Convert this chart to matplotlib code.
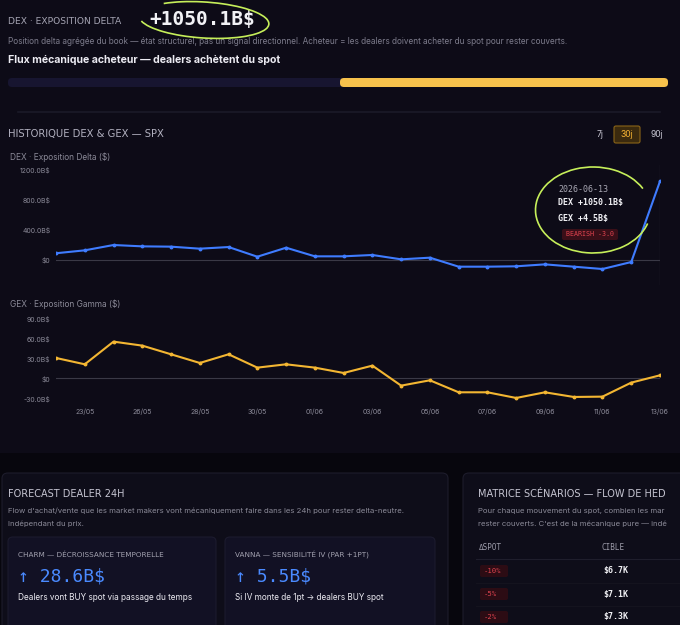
import matplotlib
matplotlib.use("Agg")
import matplotlib.pyplot as plt
from matplotlib.patches import FancyBboxPatch, Rectangle, Arc

# --- data ---
dates = ["22/05", "23/05", "25/05", "26/05", "27/05", "28/05", "29/05", "30/05",
         "31/05", "01/06", "02/06", "03/06", "04/06", "05/06", "06/06", "07/06",
         "08/06", "09/06", "10/06", "11/06", "12/06", "13/06"]
dex = [90, 129, 200, 182, 178, 151, 173, 44, 164, 49, 49, 67,
       9, 31, -89, -89, -84, -58, -89, -120, -27, 1050.1]
gex = [30.5, 21, 55, 49, 36, 23, 36, 16, 21, 16, 8, 19,
       -11, -3, -21, -21, -29.5, -21, -28, -27.5, -6.5, 4.5]
dex_ticks = [0, 400, 800, 1200]
dex_tick_labels = ["$0", "400.0B$", "800.0B$", "1200.0B$"]
gex_ticks = [-30, 0, 30, 60, 90]
gex_tick_labels = ["-30.0B$", "$0", "30.0B$", "60.0B$", "90.0B$"]
periods = ["7j", "30j", "90j"]
scen_moves = ["-10%", "-5%", "-2%"]
scen_targets = ["$6.7K", "$7.1K", "$7.3K"]

W, H = 680, 625
BG_TOP = "#0d0b17"
BG_BOT = "#07060d"
BLUE = "#3f7cff"
AMBER = "#f3b632"
GREY = "#8b8a98"
SANS = ["Inter", "DejaVu Sans"]
WIDE = ["DejaVu Sans"]
MONO = ["DejaVu Sans Mono"]

fig = plt.figure(figsize=(W / 100, H / 100), dpi=100)
fig.patch.set_facecolor(BG_BOT)


def fx(x):
    return x / W


def fy(y):
    return 1 - y / H


def txt(x, y, s, size, color, family=SANS, weight="normal", ha="left", **kw):
    fig.text(fx(x), fy(y), s, fontsize=size, color=color, family=family,
             weight=weight, ha=ha, va="center", **kw)


def box(x0, y0, x1, y1, fc, ec="none", r=4, lw=0.8, z=0):
    p = FancyBboxPatch((fx(x0), fy(y1)), fx(x1 - x0), (y1 - y0) / H,
                       boxstyle="round,pad=0,rounding_size=%f" % (r / W),
                       transform=fig.transFigure, fc=fc, ec=ec, lw=lw, zorder=z)
    fig.patches.append(p)


# backgrounds
fig.patches.append(Rectangle((0, fy(453)), 1, 453 / H, transform=fig.transFigure,
                             fc=BG_TOP, ec="none", zorder=-2))

# header
txt(8, 21, "DEX · EXPOSITION DELTA", 6.6, "#a4a3b2", family=WIDE)
txt(149, 19, "+1050.1B$", 14, "#f2f2f6", family=MONO, weight="bold")
txt(8, 42, "Position delta agrégée du book — état structurel, pas un signal directionnel. "
    "Acheteur = les dealers doivent acheter du spot pour rester couverts.", 5.9, "#7d7c8c")
txt(8, 60, "Flux mécanique acheteur — dealers achètent du spot", 7.6, "#ecebf2", weight="bold")

# flow bar
box(8, 78, 668, 87, "#171530", r=4)
box(340, 78, 668, 87, "#f7c24c", r=4, z=1)
fig.lines.append(plt.Line2D([fx(18), fx(660)], [fy(112), fy(112)], color="#1b1a28",
                            lw=1.2, transform=fig.transFigure))

txt(8, 134, "HISTORIQUE DEX & GEX — SPX", 7.2, "#b2b1c0", family=WIDE)
px_period = [600, 627, 657]
for p, xp in zip(periods, px_period):
    if p == "30j":
        box(614, 126, 640, 143, "#3b2a0e", ec="#8a6418", r=2, z=1)
        txt(xp, 134.5, p, 6.2, "#f5b233", ha="center")
    else:
        txt(xp, 134.5, p, 6.2, "#c9c8d4", ha="center")

# DEX chart
x = list(range(len(dates)))
ax1 = fig.add_axes([fx(56), fy(290), fx(660 - 56), (290 - 165) / H])
ax1.plot(x, dex, color=BLUE, lw=1.5, marker="o", ms=1.8, zorder=3)
ax1.set_ylim(-400, 1267)
ax1.set_yticks(dex_ticks, dex_tick_labels)
ax1.set_xticks([])
ax1.axhline(0, color="#3a3946", lw=0.8, zorder=1)
ax1.axvline(x[-1], ymin=0.05, color="#4a4956", lw=0.8, zorder=1)
txt(10, 157, "DEX · Exposition Delta ($)", 6, GREY)

# GEX chart
ax2 = fig.add_axes([fx(56), fy(400.3), fx(660 - 56), 88 / H])
ax2.plot(x, gex, color=AMBER, lw=1.5, marker="o", ms=1.8, zorder=3)
ax2.set_ylim(-33, 99)
ax2.set_yticks(gex_ticks, gex_tick_labels)
ax2.set_xticks(x[1::2], dates[1::2])
ax2.axhline(0, color="#3a3946", lw=0.8, zorder=1)
txt(10, 304, "GEX · Exposition Gamma ($)", 6, GREY)

for ax in (ax1, ax2):
    ax.set_facecolor("none")
    ax.set_xlim(0, len(dates) - 1)
    for s in ax.spines.values():
        s.set_visible(False)
    ax.tick_params(length=0, labelsize=5, colors=GREY, pad=4)
    for lab in ax.get_xticklabels() + ax.get_yticklabels():
        lab.set_family(SANS)
ax2.tick_params(axis="x", pad=6)

# tooltip
txt(558, 189, "2026-06-13", 6, "#a9a8b4", family=MONO)
txt(558, 203, "DEX +1050.1B$", 6, "#f0f0f4", family=MONO, weight="bold")
txt(558, 218, "GEX +4.5B$", 6, "#f0f0f4", family=MONO, weight="bold")
box(562, 229, 618, 240, "#3a0f18", r=2, z=1)
txt(590, 234.5, "BEARISH -3.0", 4.8, "#e0434f", family=MONO, ha="center")

# hand-drawn marks on the screenshot
green = "#c6ef5a"
fig.patches.append(Arc((fx(204), fy(20)), fx(130), 36 / H, angle=-4, theta1=-175, theta2=160,
                       transform=fig.transFigure, color=green, lw=1.2, zorder=5))
fig.patches.append(Arc((fx(593), fy(210)), fx(115), 86 / H, angle=0, theta1=25, theta2=345,
                       transform=fig.transFigure, color=green, lw=1.2, zorder=5))

# bottom left panel
box(2, 473, 448, 640, "#0e0d19", ec="#1d1c2b", r=6)
txt(8, 494, "FORECAST DEALER 24H", 7, "#c6c5d2", family=WIDE)
txt(8, 511, "Flow d'achat/vente que les market makers vont mécaniquement faire dans "
    "les 24h pour rester delta-neutre.", 5.6, "#8b8a98")
txt(8, 524, "Indépendant du prix.", 5.6, "#8b8a98")

cards = [
    (8, 216, "CHARM — DÉCROISSANCE TEMPORELLE", "↑ 28.6B$",
     "Dealers vont BUY spot via passage du temps"),
    (225, 435, "VANNA — SENSIBILITÉ IV (PAR +1PT)", "↑ 5.5B$",
     "Si IV monte de 1pt → dealers BUY spot"),
]
for x0, x1, head, val, sub in cards:
    box(x0, 537, x1, 640, "#121124", ec="#1c1b2e", r=5, z=1)
    txt(x0 + 10, 555, head, 5.2, "#a3a2b0", family=WIDE)
    txt(x0 + 10, 576, val, 13, "#4a8aff", family=MONO)
    txt(x0 + 10, 598, sub, 5.9, "#ecebf2")

# bottom right panel (cut by the screenshot edge)
box(463, 473, 700, 640, "#0e0d19", ec="#1d1c2b", r=6)
txt(478, 494, "MATRICE SCÉNARIOS — FLOW DE HED", 7, "#c6c5d2", family=WIDE)
txt(478, 511, "Pour chaque mouvement du spot, combien les mar", 5.6, "#8b8a98")
txt(478, 524, "rester couverts. C'est de la mécanique pure — indé", 5.6, "#8b8a98")
txt(479, 548, "ΔSPOT", 5.5, "#9d9caa", family=MONO)
txt(601, 548, "CIBLE", 5.5, "#9d9caa", family=MONO)
fig.lines.append(plt.Line2D([fx(476), fx(680)], [fy(559), fy(559)], color="#1f1e2c",
                            lw=0.8, transform=fig.transFigure))
for i, (mv, tg) in enumerate(zip(scen_moves, scen_targets)):
    yy = 571 + i * 23
    box(480, yy - 6, 508, yy + 6, "#2c0c14", r=2, z=1)
    txt(484, yy, mv, 5.2, "#e0434f", family=MONO)
    txt(603, yy, tg, 6, "#f0f0f4", family=MONO, weight="bold")
    if i < 2:
        fig.lines.append(plt.Line2D([fx(476), fx(680)], [fy(yy + 11.5), fy(yy + 11.5)],
                                    color="#16151f", lw=0.6, transform=fig.transFigure))

fig.savefig("out.png", dpi=100, facecolor=fig.get_facecolor())
